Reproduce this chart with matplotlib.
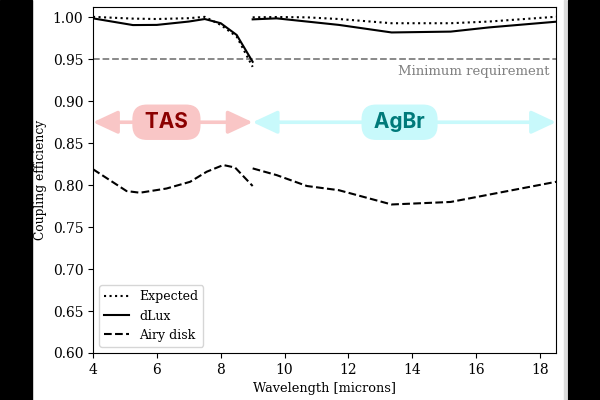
import matplotlib
matplotlib.use("Agg")
import matplotlib.pyplot as plt
from matplotlib.patches import Rectangle

plt.rcParams['font.family'] = ['DejaVu Serif']

# TAS band (4-9 microns)
tas_wl = [4, 5.25, 6, 7, 7.5, 8, 8.5, 9]
expected_tas = [1.0006, 0.9985, 0.998, 0.999, 1.0006, 0.991, 0.977, 0.941]
dlux_tas = [0.9988, 0.9908, 0.991, 0.995, 0.998, 0.993, 0.979, 0.947]
airy_tas_wl = [4, 5.05, 5.47, 6.3, 7.04, 7.56, 8.08, 8.45, 9.0]
airy_tas = [0.819, 0.793, 0.791, 0.796, 0.804, 0.816, 0.824, 0.821, 0.799]

# AgBr band (9-18.5 microns)
agbr_wl = [9, 9.75, 10.7, 11.7, 13.35, 15.2, 16.4, 18.5]
expected_agbr = [1.0, 1.0004, 1.0, 0.998, 0.993, 0.993, 0.995, 1.0007]
dlux_agbr = [0.9976, 0.9988, 0.995, 0.991, 0.982, 0.983, 0.988, 0.9948]
airy_agbr_wl = [9, 9.75, 10.7, 11.7, 13.35, 15.2, 18.5]
airy_agbr = [0.820, 0.812, 0.799, 0.794, 0.777, 0.780, 0.804]

min_req = 0.95
bands = [("TAS", 4, 9, 6.3, "#f9c6c6", "#8b0000"),
         ("AgBr", 9, 18.5, 13.6, "#c8f9fb", "#007a7a")]

fig = plt.figure(figsize=(6, 4), dpi=100)
# black side bars of the screenshot
fig.patches.append(Rectangle((0, 0), 0.054, 1, transform=fig.transFigure, color='black', zorder=-1))
fig.patches.append(Rectangle((0.946, 0), 0.054, 1, transform=fig.transFigure, color='black', zorder=-1))
fig.patches.append(Rectangle((0.9405, 0), 0.003, 1, transform=fig.transFigure, color='#dddddd', zorder=-1))

ax = fig.add_axes([0.155, 0.1175, 0.7717, 0.8643])

ax.plot(tas_wl, expected_tas, ':', color='k', lw=1.5, label='Expected')
ax.plot(tas_wl, dlux_tas, '-', color='k', lw=1.5, label='dLux')
ax.plot(airy_tas_wl, airy_tas, '--', color='k', lw=1.5, label='Airy disk')
ax.plot(agbr_wl, expected_agbr, ':', color='k', lw=1.5)
ax.plot(agbr_wl, dlux_agbr, '-', color='k', lw=1.5)
ax.plot(airy_agbr_wl, airy_agbr, '--', color='k', lw=1.5)

ax.axhline(min_req, color='gray', ls='--', lw=1.3, zorder=0)
ax.text(18.3, 0.935, "Minimum requirement", color='gray', ha='right', va='center', fontsize=9.5)

for name, lo, hi, xt, light, dark in bands:
    ax.annotate("", xy=(lo, 0.875), xytext=(hi, 0.875),
                arrowprops=dict(arrowstyle='<|-|>,head_length=0.75,head_width=0.35',
                                color=light, lw=2.6, mutation_scale=20,
                                shrinkA=0, shrinkB=0))
    ax.text(xt, 0.875, " " + name + " ", ha='center', va='center', fontsize=15, fontweight='bold',
            family=['Inter', 'DejaVu Sans'], color=dark,
            bbox=dict(boxstyle='round,pad=0.37,rounding_size=0.7', fc=light, ec='none'))

ax.set_xlim(4, 18.5)
ax.set_ylim(0.6, 1.012)
ax.set_xlabel("Wavelength [microns]", fontsize=9.3)
ax.set_ylabel("Coupling efficiency", fontsize=8.8)
ax.legend(loc='lower left', fontsize=9)

fig.savefig("out.png", dpi=100)
